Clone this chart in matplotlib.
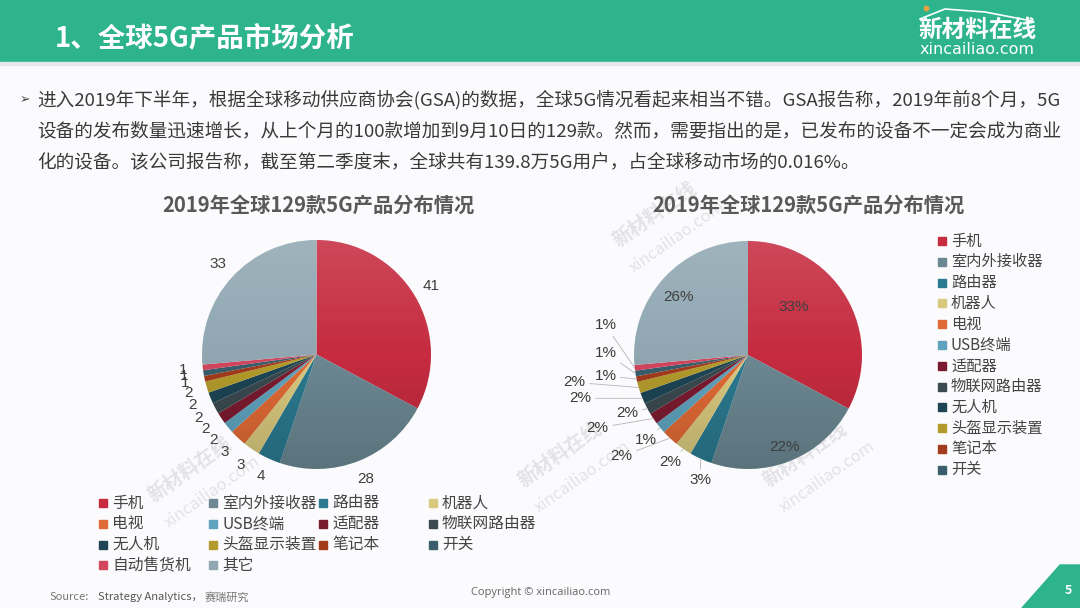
import numpy as np
import matplotlib
matplotlib.use('Agg')
import matplotlib.pyplot as plt
import matplotlib.patches as mpatches

plt.rcParams['font.family'] = ['Noto Sans CJK SC', 'DejaVu Sans']

# ── data ──────────────────────────────────────────────────────────────────
categories = ['手机', '室内外接收器', '路由器', '机器人', '电视', 'USB终端', '适配器',
              '物联网路由器', '无人机', '头盔显示装置', '笔记本', '开关', '自动售货机', '其它']
counts = [41, 28, 4, 3, 3, 2, 2, 2, 2, 2, 1, 1, 1, 33]
# percentage labels as printed on the right-hand chart
pct_labels = ['33%', '22%', '3%', '2%', '2%', '1%', '2%', '2%', '2%', '2%', '1%', '1%', '1%', '26%']
colors = ['#C62B40', '#6C8893', '#2B7A90', '#D9C97E', '#E06A35', '#5FA3BE', '#7B1B30',
          '#3B4A4F', '#1D4555', '#B39B2B', '#A33C1C', '#3A5E6C', '#D2465E', '#90A7B2']
right_legend_n = 12

chart_title = '2019年全球129款5G产品分布情况'
body_lines = [
    '进入2019年下半年，根据全球移动供应商协会(GSA)的数据，全球5G情况看起来相当不错。GSA报告称，2019年前8个月，5G',
    '设备的发布数量迅速增长，从上个月的100款增加到9月10日的129款。然而，需要指出的是，已发布的设备不一定会成为商业',
    '化的设备。该公司报告称，截至第二季度末，全球共有139.8万5G用户，占全球移动市场的0.016%。',
]

# hand-placed label spots on the right pie (pie radius = 1), like the slide
right_label_xy = [(0.40, 0.42), (0.32, -0.81), (-0.42, -1.10), (-0.68, -0.94), (-1.11, -0.89),
                  (-0.90, -0.75), (-1.32, -0.64), (-1.06, -0.51), (-1.47, -0.38), (-1.52, -0.24),
                  (-1.25, -0.18), (-1.25, 0.02), (-1.25, 0.26), (-0.61, 0.51)]

W, H = 1080, 608
fig = plt.figure(figsize=(W / 100, H / 100), dpi=100)
fig.patch.set_facecolor('#FBFBFD')

bg = fig.add_axes([0, 0, 1, 1])
bg.set_xlim(0, W)
bg.set_ylim(H, 0)
bg.axis('off')

# header band
GREEN = '#2DB48C'
bg.add_patch(mpatches.Rectangle((0, 0), W, 62, color=GREEN, zorder=1))
bg.add_patch(mpatches.Rectangle((0, 62), W, 3, color='#E6E8EC', zorder=1))
bg.text(55, 38, '1、全球5G产品市场分析', color='white', fontsize=19.8, fontweight='bold',
        va='center', ha='left', zorder=2)
bg.text(977, 30, '新材料在线', color='white', fontsize=17, fontweight='bold',
        va='center', ha='center', zorder=2)
bg.text(977, 50, 'xincailiao.com', color='white', fontsize=11.5, va='center', ha='center',
        family=['DejaVu Sans'], zorder=2)
bg.plot([920, 945, 985, 1032], [19, 9, 12, 21], color='white', lw=1.2, zorder=2)
bg.scatter([926], [8], s=10, color='#E8A040', zorder=2)

# body text
bg.text(20, 100, '➢', fontsize=9, color='#444444', va='center', family=['DejaVu Sans'])
for i, line in enumerate(body_lines):
    bg.text(37, 100 + i * 31, line, fontsize=13.4, color='#3A3A3A', va='center', ha='left')

# watermarks
for (wx, wy) in [(655, 215), (190, 470), (805, 455), (560, 455)]:
    bg.text(wx, wy, '新材料在线', fontsize=14, color='#E3E3E5', rotation=35, ha='center',
            va='center', fontweight='bold', zorder=1.5)
    bg.text(wx + 22, wy + 22, 'xincailiao.com', fontsize=12, color='#E3E3E5', rotation=35,
            ha='center', va='center', zorder=1.5)


def pie_axes(cx, cy, r, half=190):
    ax = fig.add_axes([(cx - half) / W, 1 - (cy + half) / H, 2 * half / W, 2 * half / H])
    ax.patch.set_alpha(0)
    ax.axis('off')
    return ax, half / r


def shade(ax, lim):
    grad = np.zeros((256, 1, 4))
    t = np.linspace(0, 1, 256)
    grad[:, 0, :3] = np.where(t[:, None] < 0.5, 1.0, 0.0)
    grad[:, 0, 3] = np.where(t < 0.5, 0.14 * (0.5 - t) * 2, 0.16 * (t - 0.5) * 2)
    im = ax.imshow(grad, extent=(-1, 1, -1, 1), aspect='auto', zorder=3)
    im.set_clip_path(mpatches.Circle((0, 0), 1, transform=ax.transData))
    ax.set_xlim(-lim, lim)
    ax.set_ylim(-lim, lim)


# ── left pie: counts ──────────────────────────────────────────────────────
ax_l, lim_l = pie_axes(316.5, 354.5, 114.5)
wedges_l, texts_l = ax_l.pie(counts, colors=colors, startangle=90, counterclock=False,
                             labels=[str(c) for c in counts], labeldistance=1.17,
                             wedgeprops=dict(linewidth=0))
for t in texts_l:
    t.set_ha('center')
    t.set_va('center')
    t.set_fontsize(11)
    t.set_color('#404040')
    t.set_family(['Liberation Sans', 'DejaVu Sans'])
    t.set_zorder(5)
shade(ax_l, lim_l)
bg.text(318, 205, chart_title, fontsize=14.6, fontweight='bold', color='#595959',
        ha='center', va='center')

# ── right pie: percentages ───────────────────────────────────────────────
ax_r, lim_r = pie_axes(748, 355, 114)
wedges_r, _ = ax_r.pie(counts, colors=colors, startangle=90, counterclock=False,
                       wedgeprops=dict(linewidth=0))
shade(ax_r, lim_r)
for w, lab, (lx, ly) in zip(wedges_r, pct_labels, right_label_xy):
    ang = np.deg2rad((w.theta1 + w.theta2) / 2)
    inside = lx ** 2 + ly ** 2 < 1
    tcol = '#3A3A3A' if not inside else '#3F3F3F'
    if inside:
        ax_r.text(lx, ly, lab, fontsize=11, color=tcol, ha='center', va='center', zorder=5,
                  family=['Liberation Sans', 'DejaVu Sans'])
    else:
        ax_r.annotate(lab, xy=(np.cos(ang), np.sin(ang)), xytext=(lx, ly), fontsize=11,
                      color=tcol, ha='center', va='center', zorder=5,
                      family=['Liberation Sans', 'DejaVu Sans'],
                      arrowprops=dict(arrowstyle='-', color='#B5B5B5', lw=0.6,
                                      shrinkA=1, shrinkB=0))
bg.text(808, 205, chart_title, fontsize=14.6, fontweight='bold', color='#595959',
        ha='center', va='center')

# ── legends ──────────────────────────────────────────────────────────────
for i, (cat, col) in enumerate(zip(categories, colors)):
    row, c = divmod(i, 4)
    x, y = 103 + c * 110, 503 + row * 20.8
    bg.add_patch(mpatches.Rectangle((x - 4, y - 4), 8, 8, color=col))
    bg.text(x + 9, y, cat, fontsize=11.3, color='#444444', va='center', ha='left')

for i, (cat, col) in enumerate(zip(categories[:right_legend_n], colors[:right_legend_n])):
    x, y = 942, 241 + i * 20.8
    bg.add_patch(mpatches.Rectangle((x - 4, y - 4), 8, 8, color=col))
    bg.text(x + 9, y, cat, fontsize=11, color='#444444', va='center', ha='left')

# ── footer ───────────────────────────────────────────────────────────────
bg.text(50, 597, 'Source:', fontsize=8, color='#777777', style='italic', va='center')
bg.text(98, 597, 'Strategy Analytics，', fontsize=8, color='#555555', va='center')
bg.text(205, 597, '赛瑞研究', fontsize=8, color='#777777', style='italic', va='center')
bg.text(541, 592, 'Copyright © xincailiao.com', fontsize=8, color='#666666',
        ha='center', va='center', family=['Open Sans', 'DejaVu Sans'])
bg.add_patch(mpatches.Polygon([(1022, 608), (1060, 565), (1080, 565), (1080, 608)],
                              closed=True, color=GREEN))
bg.text(1068, 590, '5', color='white', fontsize=9, fontweight='bold', ha='center', va='center')

fig.savefig('out.png', dpi=100, facecolor=fig.get_facecolor())
